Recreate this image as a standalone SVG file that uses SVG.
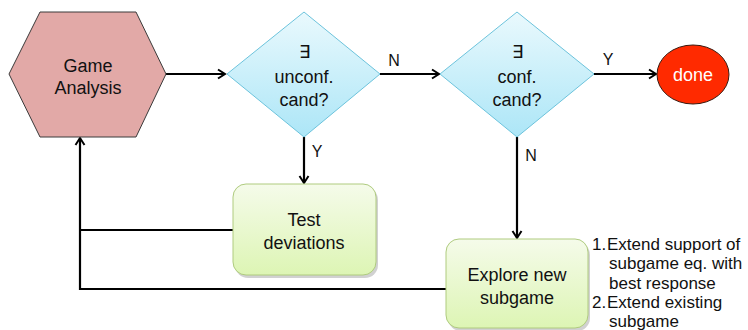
<svg xmlns="http://www.w3.org/2000/svg" width="748" height="330" viewBox="0 0 748 330">
<style>
text{font-family:"Liberation Sans",Arial,sans-serif;fill:#111;text-anchor:middle}
.lbl{font-size:18px}
.small{font-size:16px}
.list{font-size:17px;text-anchor:start}
.conn{fill:none;stroke:#000;stroke-width:2.2}
.diam{fill:url(#gBlue);stroke:#6CC3DC;stroke-width:1}
.box{fill:url(#gGreen);stroke:#AFCB7F;stroke-width:1}
.shadow{fill:#000;opacity:0.18}
</style>
<defs>
<linearGradient id="gBlue" x1="0" y1="0" x2="0" y2="1">
<stop offset="0" stop-color="#EAF9FD"/>
<stop offset="1" stop-color="#ACE6F7"/>
</linearGradient>
<linearGradient id="gGreen" x1="0" y1="0" x2="0" y2="1">
<stop offset="0" stop-color="#F5FBEA"/>
<stop offset="1" stop-color="#DDF5B4"/>
</linearGradient>
<marker id="arr" markerWidth="12" markerHeight="12" refX="10" refY="6" orient="auto" markerUnits="userSpaceOnUse">
<path d="M3,1.5 L10,6 L3,10.5" fill="none" stroke="#000" stroke-width="2"/>
</marker>
</defs>

<g id="connectors">
<line class="conn" x1="166" y1="74" x2="225" y2="74" marker-end="url(#arr)"/>
<line class="conn" x1="380" y1="74" x2="439" y2="74" marker-end="url(#arr)"/>
<line class="conn" x1="594" y1="74" x2="656" y2="74" marker-end="url(#arr)"/>
<line class="conn" x1="304" y1="137" x2="304" y2="183" marker-end="url(#arr)"/>
<line class="conn" x1="517" y1="137" x2="517" y2="238" marker-end="url(#arr)"/>
<polyline class="conn" points="233,230 80,230"/>
<polyline class="conn" points="446,289 80,289 80,138" marker-end="url(#arr)"/>
<text class="small" x="394" y="66">N</text>
<text class="small" x="608" y="65">Y</text>
<text class="small" x="317" y="157">Y</text>
<text class="small" x="531" y="161">N</text>
</g>

<g id="game-analysis">
<polygon points="9,74 40,12 136,12 166,74 136,137 40,137" fill="#E2A9A7" stroke="#3A3A3A" stroke-width="1"/>
<text class="lbl" x="88" y="72">Game</text>
<text class="lbl" x="88" y="94">Analysis</text>
</g>

<g id="unconf-cand">
<polygon class="diam" points="304,12 380,74 304,137 227,74"/>
<text class="lbl" x="304" y="58">∃</text>
<text class="lbl" x="304" y="83">unconf.</text>
<text class="lbl" x="304" y="106">cand?</text>
</g>

<g id="conf-cand">
<polygon class="diam" points="517,12 594,74 517,137 440,74"/>
<text class="lbl" x="517" y="58">∃</text>
<text class="lbl" x="517" y="83">conf.</text>
<text class="lbl" x="517" y="106">cand?</text>
</g>

<g id="done">
<ellipse cx="693" cy="74.5" rx="36" ry="29.5" fill="#FF2A00" stroke="#3A1A10" stroke-width="1"/>
<text class="lbl" x="693" y="81" style="fill:#fff">done</text>
</g>

<g id="test-deviations">
<rect class="shadow" x="235" y="187" width="143" height="91" rx="13"/>
<rect class="box" x="233" y="184" width="143" height="91" rx="13"/>
<text class="lbl" x="304" y="226">Test</text>
<text class="lbl" x="304" y="249">deviations</text>
</g>

<g id="explore-new-subgame">
<rect class="shadow" x="448" y="242" width="142" height="89" rx="13"/>
<rect class="box" x="446" y="239" width="142" height="89" rx="13"/>
<text class="lbl" x="517" y="281">Explore new</text>
<text class="lbl" x="517" y="304">subgame</text>
</g>

<g id="notes">
<text class="list" x="592" y="250">1.</text>
<text class="list" x="607" y="250">Extend support of</text>
<text class="list" x="609" y="269">subgame eq. with</text>
<text class="list" x="609" y="289">best response</text>
<text class="list" x="592" y="308">2.</text>
<text class="list" x="607" y="308">Extend existing</text>
<text class="list" x="609" y="327">subgame</text>
</g>
</svg>
